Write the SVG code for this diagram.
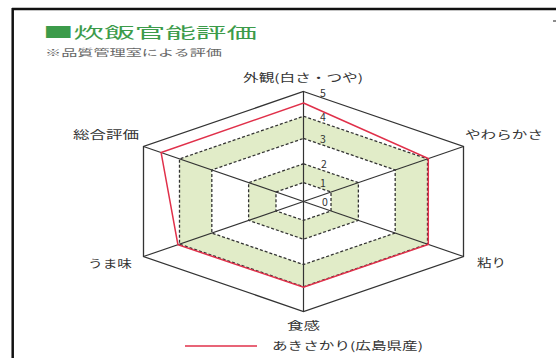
<svg xmlns="http://www.w3.org/2000/svg" width="556" height="358" viewBox="0 0 556 358">
<style>
  text { font-family: "Noto Sans CJK JP", "Noto Sans", sans-serif; }
  .lbl { font-size: 11px; fill: #333; }
  .num { font-size: 10.5px; fill: #333; text-anchor: middle; }
  .ring { fill: none; stroke: #333; stroke-width: 1.3; stroke-dasharray: 3 2; }
  .outer { fill: none; stroke: #333; stroke-width: 1.3; }
  .spoke { stroke: #333; stroke-width: 1.2; }
  .data { fill: none; stroke: #e0304a; stroke-width: 1.5; stroke-linejoin: miter; }
</style>
<rect x="0" y="0" width="556" height="358" fill="#ffffff"/>
<g id="frame">
  <line x1="12" y1="9" x2="556" y2="9" stroke="#111" stroke-width="2.5"/>
  <line x1="12.7" y1="8" x2="12.7" y2="358" stroke="#111" stroke-width="2.5"/>
  <line x1="553" y1="21" x2="556" y2="21" stroke="#666" stroke-width="1.5"/>
</g>
<g id="title">
  <text x="43" y="38" font-size="15" fill="#3c9b4a" textLength="214" lengthAdjust="spacingAndGlyphs">■炊飯官能評価</text>
  <text x="45" y="55.5" font-size="9.5" fill="#666" textLength="177" lengthAdjust="spacingAndGlyphs">※品質管理室による評価</text>
</g>
<g id="grid">
  <path fill="#e1ecc8" fill-rule="evenodd" d="M303.5,163.77 L358.38,182.63 L358.38,220.37 L303.5,239.23 L248.62,220.37 L248.62,182.63 Z M303.5,182.58 L331.02,192.04 L331.02,210.96 L303.5,220.42 L275.98,210.96 L275.98,192.04 Z"/>
  <path fill="#e1ecc8" fill-rule="evenodd" d="M303.5,116.25 L427.5,158.88 L427.5,244.13 L303.5,286.75 L179.5,244.13 L179.5,158.88 Z M303.5,138.47 L395.18,169.98 L395.18,233.02 L303.5,264.53 L211.82,233.02 L211.82,169.98 Z"/>
  <polygon class="ring" points="303.5,182.58 331.02,192.04 331.02,210.96 303.5,220.42 275.98,210.96 275.98,192.04"/>
  <polygon class="ring" points="303.5,163.77 358.38,182.63 358.38,220.37 303.5,239.23 248.62,220.37 248.62,182.63"/>
  <polygon class="ring" points="303.5,138.47 395.18,169.98 395.18,233.02 303.5,264.53 211.82,233.02 211.82,169.98"/>
  <polygon class="ring" points="303.5,116.25 427.5,158.88 427.5,244.13 303.5,286.75 179.5,244.13 179.5,158.88"/>
  <polygon class="outer" points="303.5,91.5 463.5,146.5 463.5,256.5 303.5,311.5 143.5,256.5 143.5,146.5"/>
</g>
<g id="connectors">
  <line class="spoke" x1="303.5" y1="201.5" x2="303.5" y2="91.5"/>
  <line class="spoke" x1="303.5" y1="201.5" x2="463.5" y2="146.5"/>
  <line class="spoke" x1="303.5" y1="201.5" x2="463.5" y2="256.5"/>
  <line class="spoke" x1="303.5" y1="201.5" x2="303.5" y2="311.5"/>
  <line class="spoke" x1="303.5" y1="201.5" x2="143.5" y2="256.5"/>
  <line class="spoke" x1="303.5" y1="201.5" x2="143.5" y2="146.5"/>
</g>
<g id="scale">
  <text class="num" x="323" y="96.5">5</text>
  <text class="num" x="323" y="120.5">4</text>
  <text class="num" x="323" y="142.5">3</text>
  <text class="num" x="324" y="168">2</text>
  <text class="num" x="323" y="187">1</text>
  <text class="num" x="325" y="205.5">0</text>
</g>
<g id="series">
  <polygon class="data" points="303.5,103.05 428.3,158.6 428.3,244.4 303.5,287.3 177.9,244.7 161.1,152.55"/>
</g>
<g id="axis-gaikan"><text class="lbl" x="243" y="81.5" textLength="120" lengthAdjust="spacingAndGlyphs">外観(白さ・つや)</text></g>
<g id="axis-yawarakasa"><text class="lbl" x="465" y="139" textLength="78" lengthAdjust="spacingAndGlyphs">やわらかさ</text></g>
<g id="axis-nebari"><text class="lbl" x="477" y="267" textLength="29" lengthAdjust="spacingAndGlyphs">粘り</text></g>
<g id="axis-shokkan"><text class="lbl" x="287" y="330" textLength="33" lengthAdjust="spacingAndGlyphs">食感</text></g>
<g id="axis-umami"><text class="lbl" x="88" y="268" textLength="44" lengthAdjust="spacingAndGlyphs">うま味</text></g>
<g id="axis-sougou"><text class="lbl" x="73" y="139" textLength="66" lengthAdjust="spacingAndGlyphs">総合評価</text></g>
<g id="legend">
  <line x1="185" y1="346" x2="257" y2="346" stroke="#e0304a" stroke-width="1.5"/>
  <text class="lbl" x="272" y="350" fill="#444" textLength="151" lengthAdjust="spacingAndGlyphs">あきさかり(広島県産)</text>
</g>
</svg>
